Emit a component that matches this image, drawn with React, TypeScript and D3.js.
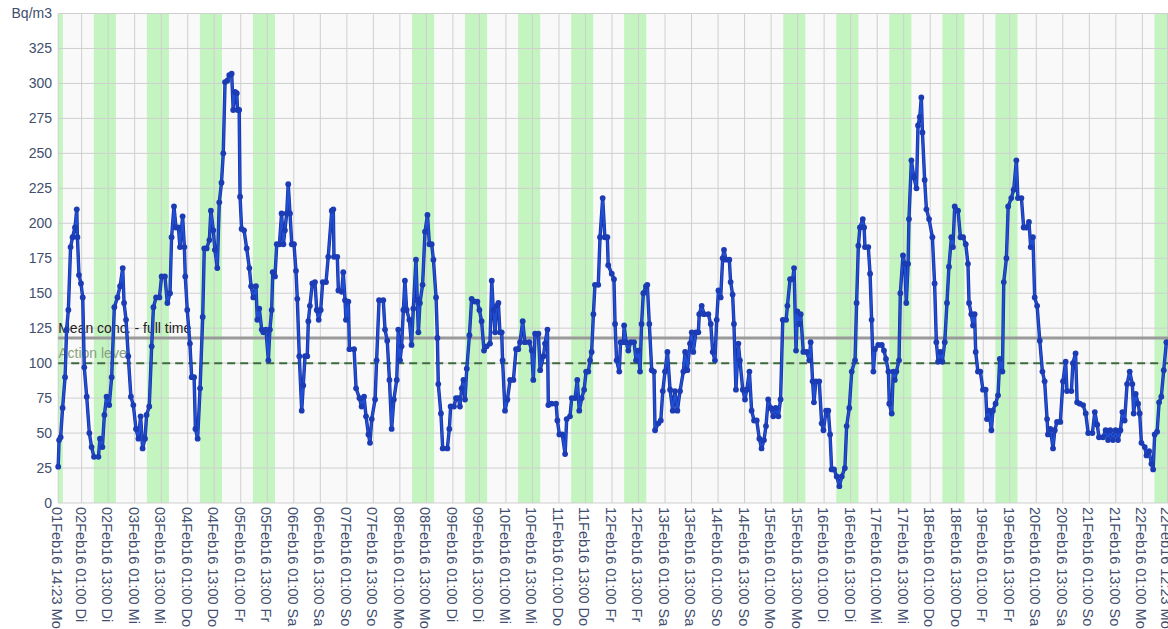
import React, { useEffect, useRef } from "react";
import * as d3 from "d3";

// hours since start (01Feb16 14:23), Bq/m3
const week1: [number, number][] = [
  [0, 26], [0.4, 45], [1.1, 47], [2, 68], [3.1, 90], [3.8, 124], [4.6, 138], [5.6, 183], [6.5, 190], [7.6, 197],
  [8.4, 210], [8.7, 190], [9.4, 163], [10.3, 157], [11.1, 147], [11.8, 97], [12.9, 76], [14.1, 50], [15.1, 40],
  [16.2, 33], [18.2, 33], [18.9, 46], [20, 40], [20.9, 63], [21.9, 76], [23.1, 70], [24.2, 90], [25.4, 140],
  [26.8, 147], [28, 155], [29.2, 168], [29.8, 143], [30.7, 131], [31.7, 105], [32.9, 76], [34, 70], [35.2, 53],
  [36.3, 46], [37.3, 62], [38.2, 39], [39.3, 46], [40, 63], [41.2, 69], [42.3, 112], [43.1, 140], [44.3, 147],
  [45.8, 147], [46.8, 162], [48.3, 162], [49.4, 143], [50.6, 150], [51.3, 190], [52.4, 212], [53.3, 197],
  [54.4, 197], [55.1, 183], [56.3, 205], [57.1, 183], [57.5, 162], [58.4, 138], [59.6, 114], [60.4, 90],
  [61.5, 90], [62.1, 53], [63.1, 46], [64.2, 82], [65.4, 133], [66.1, 182], [67.2, 182], [68.4, 188], [69.1, 209],
  [70.2, 195], [70.9, 181], [72, 168], [72.9, 215], [73.9, 229], [74.7, 250], [75.5, 301], [76.5, 302],
  [77.4, 306], [78.5, 307], [79.2, 281], [80, 294], [80.8, 293], [81.2, 281], [81.9, 281], [82.3, 219],
  [83, 196], [84.1, 195], [85.3, 182], [86.5, 168], [87.3, 155], [88.3, 147], [89.5, 155], [90.1, 131],
  [91, 139], [92.1, 124], [92.8, 122], [94, 124], [95.1, 102], [95.8, 124], [96.6, 138], [97.1, 165],
  [98.1, 162], [98.9, 185], [100.1, 185], [101.1, 207], [101.9, 185], [102.6, 195], [103.4, 207], [104.1, 228],
  [104.9, 207], [105.7, 185], [106.7, 185], [107.6, 166], [108.2, 146], [109.1, 105], [110.2, 66], [110.9, 84],
  [111.7, 105], [112.7, 105], [113.2, 130], [113.9, 141], [115, 157], [116.2, 158], [117, 138], [117.9, 131],
  [118.8, 138], [119.7, 158], [121.2, 158], [122.2, 176], [123.8, 209], [124.5, 210], [124.8, 176], [126.3, 176],
  [126.8, 152], [128.3, 151], [129, 165], [129.8, 145], [130.2, 131], [131.3, 144], [131.8, 110], [133.9, 110],
  [134.8, 82], [136.3, 75], [137.3, 69], [138.4, 76], [139.3, 62], [140.4, 49], [141.1, 43], [141.9, 60],
  [143.4, 74], [144.1, 102], [145.2, 145], [147.1, 145], [147.9, 124], [148.9, 116], [149.9, 88], [150.9, 53],
  [151.9, 74], [153.2, 88], [153.9, 124], [154.7, 102], [155.4, 112], [156.2, 138], [156.9, 159], [157.7, 138],
  [158.9, 131], [159.9, 113], [160.7, 139], [161.9, 174], [162.5, 145], [163, 122], [163.7, 143], [164.9, 156],
  [166, 194], [167.1, 206],
];

const week2: [number, number][] = [
  [168, 185], [169, 185], [169.8, 174], [171, 147], [171.6, 118], [172, 85], [173.2, 64], [174, 39], [176.1, 39],
  [177, 53], [177.6, 69], [179.1, 69], [180, 75], [181.1, 75], [181.8, 69], [182.6, 82], [183.4, 88], [184.1, 74],
  [184.9, 96], [186.1, 120], [187.1, 146], [188.6, 144], [189.7, 144], [190.6, 138], [191.6, 130], [192.7, 109],
  [193.9, 112], [195.4, 114], [196.2, 159], [196.9, 138], [197.7, 122], [198.4, 141], [199.2, 143], [199.9, 122],
  [200.7, 122], [201.1, 102], [202.2, 66], [203.3, 74], [204.5, 88], [206, 88], [207.2, 110], [208.2, 110],
  [209, 115], [210.2, 130], [211.2, 115], [213.2, 115], [214.3, 109], [215, 88], [215.8, 121], [217.3, 121],
  [218.1, 95], [219.6, 105], [220.3, 114], [221.4, 124], [221.8, 70], [223.3, 71], [225.3, 71], [225.9, 59],
  [226.8, 49], [228.1, 49], [229.4, 35], [230.1, 60], [231.6, 62], [232.4, 75], [233.9, 75], [234.9, 88],
  [235.8, 66], [236.9, 75], [238, 81], [238.9, 94], [239.9, 94], [240.7, 102], [241.4, 108], [242.2, 135],
  [242.9, 156], [244.4, 156], [245.2, 190], [246.4, 218], [247.4, 190], [248.5, 190], [248.9, 170], [250.5, 164],
  [251.5, 160], [252, 128], [252.7, 102], [253.9, 94], [254.5, 115], [255.8, 115], [256.1, 127], [257, 115],
  [258, 109], [259.1, 115], [260.6, 115], [261.5, 102], [262.5, 109], [263.3, 94], [264, 128], [264.8, 150],
  [266, 155], [266.6, 156], [267.5, 128], [268.6, 95], [269.6, 94], [270.1, 52], [271.6, 57], [272.7, 59],
  [273.6, 80], [274.6, 94], [275.7, 108], [276.9, 81], [278.1, 66], [279.1, 80], [280.2, 66], [281.4, 80],
  [282.9, 94], [283.7, 108], [284.7, 95], [285.9, 114], [286.7, 122], [287.4, 108], [288.6, 122], [289.7, 122],
  [290.1, 135], [291.2, 141], [292.3, 135], [294.2, 135], [295.3, 128], [296.2, 108], [297.2, 102], [298, 131],
  [298.8, 152], [299.8, 147], [300.7, 175], [301.3, 181], [302.2, 174], [303.7, 174], [304.3, 158], [305.2, 149],
  [305.8, 128], [306.7, 81], [307.8, 114], [308.5, 102], [309.8, 81], [310.8, 74], [311.6, 81], [312.8, 94],
  [313.8, 66], [314.9, 59], [316.1, 59], [317.3, 46], [318.3, 39], [319.4, 45], [320.3, 55], [321.3, 74],
  [322.4, 68], [323.6, 62], [324.7, 68], [325.9, 62], [326.9, 74], [327.9, 131], [329.4, 131], [330, 141],
  [331.2, 160], [332.4, 160], [333, 168], [333.9, 109], [334.5, 137],
];

const week3: [number, number][] = [
  [335.4, 128], [336, 135], [337.2, 108], [338.7, 108], [339.9, 102], [340.5, 115], [341.4, 87], [342, 72],
  [342.9, 87], [344.4, 87], [345.5, 57], [346.3, 52], [347.5, 66], [348.5, 66], [349.3, 49], [350, 24],
  [351.1, 24], [352.3, 19], [353.5, 12], [354.6, 19], [356, 25], [356.8, 55], [358, 68], [359.1, 94],
  [360.6, 102], [361.3, 143], [362.1, 184], [362.8, 197], [364.1, 203], [364.7, 197], [365.1, 183], [366.6, 183],
  [367.4, 164], [368.1, 131], [368.9, 94], [369.6, 110], [371.1, 113], [372.7, 113], [373.7, 109], [374.6, 103],
  [375.7, 94], [376.1, 71], [377.2, 64], [377.9, 94], [378.6, 88], [379.3, 94], [380.5, 102], [381.1, 150],
  [382.3, 177], [383.1, 171], [383.8, 143], [384.6, 171], [385, 203], [386.1, 245], [387.2, 233], [388.4, 225],
  [389.1, 270], [389.9, 276], [390.6, 290], [391.1, 265], [392.1, 231], [392.9, 210], [394.1, 203], [395.6, 190],
  [396.6, 157], [397.4, 115], [398.2, 101], [399.2, 108], [400.1, 101], [401.2, 115], [402.2, 143], [403.1, 169],
  [404.2, 190], [404.9, 183], [405.7, 212], [407.2, 209], [408.3, 190], [409.5, 190], [410.7, 185], [411.7, 171],
  [412.2, 143], [413.2, 135], [414, 127], [414.7, 135], [415.2, 108], [416.2, 94], [417.3, 94], [418.5, 81],
  [419.7, 81], [420.3, 60], [421.2, 66], [422.3, 52], [423, 66], [424.2, 71], [425.3, 77], [426.1, 103],
  [427.3, 94], [427.9, 158], [429.1, 175], [429.9, 212], [431.3, 218], [432.4, 224], [433.6, 245], [434.3, 218],
  [435.9, 218], [436.9, 197], [438.1, 197], [439.3, 201], [440.1, 183], [441.1, 190], [441.9, 147], [443, 141],
  [444.2, 116], [445.4, 94], [446.4, 87], [447.5, 60], [447.9, 49], [449, 53], [450.2, 39], [451, 52], [452, 58],
  [453.5, 58], [454.7, 87], [455.9, 101], [456.5, 80], [458.5, 80], [459.2, 100], [460.4, 107], [461.1, 72],
  [462.3, 71], [463.8, 70], [465, 64], [466.1, 50], [468, 50], [469.1, 65], [470.2, 56], [471, 47], [472.8, 47],
  [474, 52], [475.1, 45], [476.1, 52], [477.3, 45], [478.5, 52], [479.6, 45], [480.7, 52], [481.6, 65],
  [482.6, 59], [483.7, 85], [484.9, 94], [486.1, 85], [486.7, 64], [487.6, 78], [488.7, 71], [489.4, 64],
  [490.2, 43], [491.7, 40], [492.5, 34], [493.7, 37], [494.7, 28], [495.5, 24], [496.2, 49], [497.3, 51],
  [498.2, 72], [499.2, 76], [500.3, 95], [501.5, 115],
];

// working days shaded green (06:30 - 16:30)
const workDays = [
  "2016-02-01", "2016-02-02", "2016-02-03", "2016-02-04", "2016-02-05",
  "2016-02-08", "2016-02-09", "2016-02-10", "2016-02-11", "2016-02-12",
  "2016-02-15", "2016-02-16", "2016-02-17", "2016-02-18", "2016-02-19",
  "2016-02-22",
];

const yTicks = [0, 25, 50, 75, 100, 125, 150, 175, 200, 225, 250, 275, 300, 325];
const weekdayNames = ["So", "Mo", "Di", "Mi", "Do", "Fr", "Sa"];

const startTime = new Date(2016, 1, 1, 14, 23);
const endTime = new Date(2016, 1, 22, 12, 23);
const meanConc = 118;
const actionLevel = 100;

const App = () => {
  const svgRef = useRef<SVGSVGElement>(null);

  useEffect(() => {
    const width = 1168;
    const height = 629;
    const left = 58.2;
    const right = 1167.5;
    const top = 13.5;
    const bottom = 503;

    const svg = d3.select(svgRef.current);
    svg.selectAll("*").remove();

    const x = d3.scaleTime().domain([startTime, endTime]).range([left, right]);
    const y = d3.scaleLinear().domain([0, 350]).range([bottom, top]);

    const data = [...week1, ...week2, ...week3].map(([h, v]) => ({
      t: new Date(startTime.getTime() + h * 3600000),
      v,
    }));

    const font = "'Liberation Sans', Arial, sans-serif";
    const labelColor = "#414e6e";

    svg.append("rect")
      .attr("x", 0).attr("y", 0)
      .attr("width", width).attr("height", height)
      .attr("fill", "#ffffff");

    svg.append("rect")
      .attr("x", left).attr("y", top)
      .attr("width", width - left).attr("height", bottom - top)
      .attr("fill", "#f9f9f9");

    // working hours bands
    const parseDay = d3.timeParse("%Y-%m-%d");
    svg.append("g")
      .selectAll("rect")
      .data(workDays)
      .enter()
      .append("rect")
      .each(function (d) {
        const day = parseDay(d) as Date;
        const s = d3.max([new Date(day.getTime() + 6.5 * 3600000), startTime]) as Date;
        const e = d3.min([new Date(day.getTime() + 16.5 * 3600000), endTime]) as Date;
        d3.select(this)
          .attr("x", x(s))
          .attr("y", top)
          .attr("width", Math.max(0, x(e) - x(s)))
          .attr("height", bottom - top);
      })
      .attr("fill", "#c4f5c0");

    // x ticks: start, every 01:00 and 13:00, end
    const xTicks: Date[] = [startTime];
    for (let d = 2; d <= 22; d++) {
      [1, 13].forEach(hr => {
        const t = new Date(2016, 1, d, hr, 0);
        if (t < endTime) xTicks.push(t);
      });
    }
    xTicks.push(endTime);

    // grid
    svg.append("g")
      .selectAll("line")
      .data(xTicks)
      .enter()
      .append("line")
      .attr("x1", d => x(d)).attr("x2", d => x(d))
      .attr("y1", top).attr("y2", bottom)
      .attr("stroke", "#cfcfcf")
      .attr("stroke-width", 1);

    svg.append("g")
      .selectAll("line")
      .data([...yTicks, 350])
      .enter()
      .append("line")
      .attr("x1", left).attr("x2", width)
      .attr("y1", d => y(d)).attr("y2", d => y(d))
      .attr("stroke", "#cfcfcf")
      .attr("stroke-width", 1);

    // y labels
    svg.append("g")
      .selectAll("text")
      .data(yTicks)
      .enter()
      .append("text")
      .attr("x", 52)
      .attr("y", d => y(d))
      .attr("dy", "0.35em")
      .attr("text-anchor", "end")
      .style("font-family", font)
      .style("font-size", "14px")
      .attr("fill", labelColor)
      .text(d => d);

    svg.append("text")
      .attr("x", 52)
      .attr("y", y(350))
      .attr("dy", "0.35em")
      .attr("text-anchor", "end")
      .style("font-family", font)
      .style("font-size", "14px")
      .attr("fill", labelColor)
      .text("Bq/m3");

    // x labels
    const fmt = d3.timeFormat("%d%b%y %H:%M");
    svg.append("g")
      .selectAll("text")
      .data(xTicks)
      .enter()
      .append("text")
      .attr("transform", d => `translate(${x(d) - 1},507) rotate(90)`)
      .attr("dy", "0.35em")
      .attr("text-anchor", "start")
      .style("font-family", font)
      .style("font-size", "14.5px")
      .attr("fill", labelColor)
      .text(d => `${fmt(d)} ${weekdayNames[d.getDay()]}`);

    // reference lines
    svg.append("line")
      .attr("x1", left).attr("x2", width)
      .attr("y1", y(meanConc)).attr("y2", y(meanConc))
      .attr("stroke", "#9a9a9a")
      .attr("stroke-width", 3);

    svg.append("line")
      .attr("x1", left).attr("x2", width)
      .attr("y1", y(actionLevel)).attr("y2", y(actionLevel))
      .attr("stroke", "#3d6b3d")
      .attr("stroke-width", 2)
      .attr("stroke-dasharray", "8,5");

    svg.append("text")
      .attr("x", left)
      .attr("y", y(meanConc) - 5)
      .style("font-family", font)
      .style("font-size", "14px")
      .attr("fill", "#222222")
      .text("Mean conc. - full time");

    svg.append("text")
      .attr("x", left)
      .attr("y", y(actionLevel) - 5)
      .style("font-family", font)
      .style("font-size", "14px")
      .attr("fill", "#86a37e")
      .text("Action level");

    // series
    const line = d3.line<{ t: Date; v: number }>()
      .x(d => x(d.t))
      .y(d => y(d.v));

    svg.append("path")
      .datum(data)
      .attr("d", line)
      .attr("fill", "none")
      .attr("stroke", "#1a309a")
      .attr("stroke-width", 3.4)
      .attr("stroke-linejoin", "round");

    svg.append("path")
      .datum(data)
      .attr("d", line)
      .attr("fill", "none")
      .attr("stroke", "#1f4fd6")
      .attr("stroke-width", 2)
      .attr("stroke-linejoin", "round");

    svg.append("g")
      .selectAll("circle")
      .data(data)
      .enter()
      .append("circle")
      .attr("cx", d => x(d.t))
      .attr("cy", d => y(d.v))
      .attr("r", 2.9)
      .attr("fill", "#1b3cb4");
  }, []);

  return (
    <div style={{ position: "absolute", left: 0, top: 0, width: 1168, height: 629, overflow: "hidden" }}>
      <svg ref={svgRef} width={1168} height={629} style={{ display: "block" }}></svg>
    </div>
  );
};

export default App;
